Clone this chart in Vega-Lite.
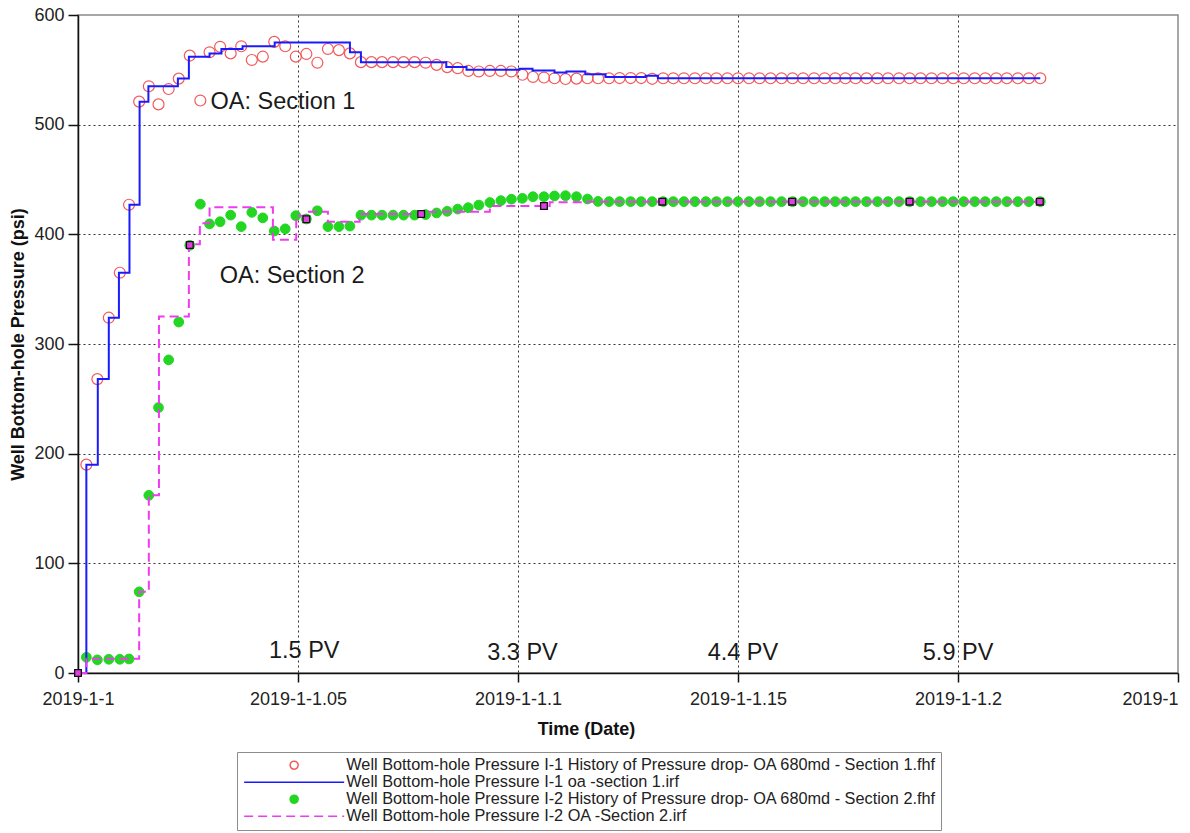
{
  "$schema": "https://vega.github.io/schema/vega-lite/v6.json",
  "width": 1100,
  "height": 658,
  "autosize": {"type": "none"},
  "padding": {"left": 78, "top": 15, "right": 12, "bottom": 160},
  "background": "white",
  "config": {
    "font": "Liberation Sans",
    "view": {"stroke": "#8a8a8a", "strokeWidth": 1.5},
    "legend": {
      "orient": "none",
      "legendX": 159,
      "legendY": 737,
      "direction": "vertical",
      "padding": 5,
      "strokeColor": "#8c8c8c",
      "fillColor": "white",
      "labelFont": "Liberation Sans",
      "labelFontSize": 16.3,
      "labelColor": "#222222",
      "labelLimit": 900,
      "symbolSize": 64,
      "symbolOffset": 44,
      "labelOffset": 44,
      "rowPadding": -3.3,
      "symbolStrokeWidth": 1.5
    }
  },
  "datasets": {
    "hist1": [
      {"t":0.0019,"p":190},{"t":0.0044,"p":268},{"t":0.0070,"p":324},{"t":0.0095,"p":365},{"t":0.0116,"p":427},
      {"t":0.0139,"p":521},{"t":0.0161,"p":535},{"t":0.0183,"p":518.5},{"t":0.0206,"p":532.5},{"t":0.0229,"p":542},
      {"t":0.0254,"p":563},{"t":0.0278,"p":522},{"t":0.0299,"p":566},{"t":0.0323,"p":571},{"t":0.0347,"p":565},
      {"t":0.0371,"p":571.5},{"t":0.0395,"p":559},{"t":0.0420,"p":562},{"t":0.0446,"p":575.5},{"t":0.0471,"p":571.5},
      {"t":0.0495,"p":562},{"t":0.0519,"p":564.5},{"t":0.0544,"p":556.5},{"t":0.0568,"p":569},{"t":0.0593,"p":568},
      {"t":0.0618,"p":565},{"t":0.0643,"p":557},{"t":0.0667,"p":557},{"t":0.0691,"p":557},{"t":0.0716,"p":557},
      {"t":0.0740,"p":557},{"t":0.0765,"p":557},{"t":0.0790,"p":556.5},{"t":0.0815,"p":554.5},{"t":0.0839,"p":552.5},
      {"t":0.0863,"p":551.5},{"t":0.0887,"p":549},{"t":0.0911,"p":548.5},{"t":0.0936,"p":549},{"t":0.0961,"p":549},
      {"t":0.0985,"p":548.5},{"t":0.1010,"p":545.5},{"t":0.1034,"p":543.5},{"t":0.1059,"p":543},{"t":0.1083,"p":542.3},
      {"t":0.1108,"p":541.6},{"t":0.1133,"p":542},{"t":0.1158,"p":542.3},{"t":0.1182,"p":542.3},{"t":0.1207,"p":542.3},
      {"t":0.1231,"p":542.5},{"t":0.1256,"p":542.5},{"t":0.1280,"p":542.5},{"t":0.1305,"p":541.8},{"t":0.1330,"p":542.3},
      {"t":0.1353,"p":542.3},{"t":0.1377,"p":542.3},{"t":0.1402,"p":542.3},{"t":0.1427,"p":542.3},{"t":0.1451,"p":542.3},
      {"t":0.1476,"p":542.3},{"t":0.1500,"p":542.3},{"t":0.1525,"p":542.3},{"t":0.1549,"p":542.3},{"t":0.1574,"p":542.3},
      {"t":0.1599,"p":542.3},{"t":0.1624,"p":542.3},{"t":0.1648,"p":542.3},{"t":0.1673,"p":542.3},{"t":0.1697,"p":542.3},
      {"t":0.1721,"p":542.3},{"t":0.1744,"p":542.3},{"t":0.1767,"p":542.3},{"t":0.1792,"p":542.3},{"t":0.1817,"p":542.3},
      {"t":0.1841,"p":542.3},{"t":0.1866,"p":542.3},{"t":0.1890,"p":542.3},{"t":0.1915,"p":542.3},{"t":0.1940,"p":542.3},
      {"t":0.1965,"p":542.3},{"t":0.1989,"p":542.3},{"t":0.2013,"p":542.3},{"t":0.2038,"p":542.3},{"t":0.2062,"p":542.3},
      {"t":0.2087,"p":542.3},{"t":0.2111,"p":542.3},{"t":0.2136,"p":542.3},{"t":0.2161,"p":542.3},{"t":0.2187,"p":542.3}
    ],
    "hist2": [
      {"t":0.0019,"p":14.3},{"t":0.0044,"p":12},{"t":0.0070,"p":12.5},{"t":0.0095,"p":12.5},{"t":0.0116,"p":12.8},
      {"t":0.0139,"p":74},{"t":0.0161,"p":162},{"t":0.0183,"p":242},{"t":0.0206,"p":285.5},{"t":0.0229,"p":320},
      {"t":0.0254,"p":390},{"t":0.0278,"p":427.5},{"t":0.0299,"p":409.5},{"t":0.0323,"p":411.5},{"t":0.0347,"p":417.5},
      {"t":0.0371,"p":407},{"t":0.0395,"p":420},{"t":0.0420,"p":415},{"t":0.0446,"p":403},{"t":0.0471,"p":405},
      {"t":0.0495,"p":417},{"t":0.0519,"p":414},{"t":0.0544,"p":421.5},{"t":0.0568,"p":407},{"t":0.0593,"p":407},
      {"t":0.0618,"p":407.5},{"t":0.0643,"p":417.5},{"t":0.0667,"p":417.5},{"t":0.0691,"p":417.5},{"t":0.0716,"p":417.5},
      {"t":0.0740,"p":417.5},{"t":0.0765,"p":417.5},{"t":0.0790,"p":418},{"t":0.0815,"p":419.5},{"t":0.0839,"p":421},
      {"t":0.0863,"p":423},{"t":0.0887,"p":424.3},{"t":0.0911,"p":426.7},{"t":0.0936,"p":429},{"t":0.0961,"p":430.7},
      {"t":0.0985,"p":432},{"t":0.1010,"p":432.8},{"t":0.1034,"p":434.3},{"t":0.1059,"p":434.3},{"t":0.1083,"p":435},
      {"t":0.1108,"p":435.2},{"t":0.1133,"p":434.3},{"t":0.1158,"p":432.2},{"t":0.1182,"p":430},{"t":0.1207,"p":429.8},
      {"t":0.1231,"p":429.8},{"t":0.1256,"p":429.8},{"t":0.1280,"p":429.8},{"t":0.1305,"p":429.8},{"t":0.1330,"p":429.8},
      {"t":0.1353,"p":429.8},{"t":0.1377,"p":429.8},{"t":0.1402,"p":429.8},{"t":0.1427,"p":429.8},{"t":0.1451,"p":429.8},
      {"t":0.1476,"p":429.8},{"t":0.1500,"p":429.8},{"t":0.1525,"p":429.8},{"t":0.1549,"p":429.8},{"t":0.1574,"p":429.8},
      {"t":0.1599,"p":429.8},{"t":0.1624,"p":429.8},{"t":0.1648,"p":429.8},{"t":0.1673,"p":429.8},{"t":0.1697,"p":429.8},
      {"t":0.1721,"p":429.8},{"t":0.1744,"p":429.8},{"t":0.1767,"p":429.8},{"t":0.1792,"p":429.8},{"t":0.1817,"p":429.8},
      {"t":0.1841,"p":429.8},{"t":0.1866,"p":429.8},{"t":0.1890,"p":429.8},{"t":0.1915,"p":429.8},{"t":0.1940,"p":429.8},
      {"t":0.1965,"p":429.8},{"t":0.1989,"p":429.8},{"t":0.2013,"p":429.8},{"t":0.2038,"p":429.8},{"t":0.2062,"p":429.8},
      {"t":0.2087,"p":429.8},{"t":0.2111,"p":429.8},{"t":0.2136,"p":429.8},{"t":0.2161,"p":429.8},{"t":0.2187,"p":429.8}
    ],
    "sim1": [
      {"t":0,"p":0},{"t":0.0019,"p":190},{"t":0.0045,"p":268},{"t":0.0070,"p":324},{"t":0.0093,"p":365},
      {"t":0.0117,"p":427},{"t":0.0140,"p":521},{"t":0.0160,"p":535},{"t":0.0227,"p":542},{"t":0.0252,"p":562},
      {"t":0.0299,"p":565},{"t":0.0326,"p":569},{"t":0.0374,"p":571.5},{"t":0.0447,"p":575},{"t":0.0618,"p":566},
      {"t":0.0643,"p":557},{"t":0.0837,"p":552.5},{"t":0.0883,"p":550},{"t":0.1003,"p":551},{"t":0.1033,"p":549.5},
      {"t":0.1083,"p":547.5},{"t":0.1110,"p":548.5},{"t":0.1153,"p":546},{"t":0.1199,"p":543.5},{"t":0.1290,"p":544.5},
      {"t":0.1318,"p":542.3},{"t":0.2187,"p":542.3}
    ],
    "sim2": [
      {"t":0,"p":0},{"t":0.0019,"p":13},{"t":0.0139,"p":74},{"t":0.0161,"p":162},{"t":0.0184,"p":325},
      {"t":0.0252,"p":391},{"t":0.0277,"p":410},{"t":0.0299,"p":424.6},{"t":0.0443,"p":395},{"t":0.0496,"p":417},
      {"t":0.0519,"p":420.5},{"t":0.0568,"p":411.5},{"t":0.0640,"p":418.5},{"t":0.0792,"p":420.6},{"t":0.0936,"p":425.8},
      {"t":0.1072,"p":429.2},{"t":0.1147,"p":429.8},{"t":0.2187,"p":429.8}
    ],
    "events": [
      {"t":0,"p":0},{"t":0.0254,"p":390.3},{"t":0.0519,"p":413.7},{"t":0.0780,"p":418.5},{"t":0.1059,"p":425.8},
      {"t":0.1328,"p":429.8},{"t":0.1623,"p":429.8},{"t":0.1890,"p":429.8},{"t":0.2186,"p":429.8}
    ],
    "notes": [
      {"t":0.0301,"p":514,"label":"OA: Section 1"},
      {"t":0.0322,"p":356,"label":"OA: Section 2"},
      {"t":0.0434,"p":13.4,"label":"1.5 PV"},
      {"t":0.0930,"p":12,"label":"3.3 PV"},
      {"t":0.1431,"p":12,"label":"4.4 PV"},
      {"t":0.1920,"p":12,"label":"5.9 PV"}
    ]
  },
  "encoding": {
    "x": {
      "field": "t",
      "type": "quantitative",
      "scale": {"domain": [0, 0.25], "nice": false, "zero": false},
      "axis": {
        "title": "Time (Date)",
        "values": [0, 0.05, 0.1, 0.15, 0.2, 0.25],
        "labelExpr": "datum.value >= 0.25 ? '2019-1' : '2019-1-' + format(1 + datum.value, '.2~f')",
        "labelAlign": {"condition": {"test": "datum.value >= 0.25", "value": "right"}, "value": "center"},
        "labelFlush": false,
        "labelOverlap": false,
        "labelFontSize": 18,
        "labelColor": "#222222",
        "labelPadding": 8,
        "tickSize": 9,
        "tickColor": "#111111",
        "tickWidth": 1.5,
        "domainColor": "#111111",
        "domainWidth": 1.5,
        "grid": true,
        "gridColor": "#333333",
        "gridDash": [2, 3],
        "gridWidth": 1,
        "gridOpacity": {"condition": {"test": "datum.value <= 0 || datum.value >= 0.25", "value": 0}, "value": 1},
        "titleFontSize": 18,
        "titleFontWeight": "bold",
        "titleColor": "#111111",
        "titleX": 508,
        "titleY": 61,
        "titleBaseline": "alphabetic",
        "titleAlign": "center"
      }
    },
    "y": {
      "field": "p",
      "type": "quantitative",
      "scale": {"domain": [0, 600], "nice": false},
      "axis": {
        "title": "Well Bottom-hole Pressure (psi)",
        "values": [0, 100, 200, 300, 400, 500, 600],
        "labelFontSize": 18,
        "labelColor": "#222222",
        "labelPadding": 4,
        "tickSize": 10,
        "tickColor": "#111111",
        "tickWidth": 1.5,
        "domainColor": "#111111",
        "domainWidth": 1.5,
        "grid": true,
        "gridColor": "#333333",
        "gridDash": [2, 3],
        "gridWidth": 1,
        "gridOpacity": {"condition": {"test": "datum.value <= 0 || datum.value >= 600", "value": 0}, "value": 1},
        "titleFontSize": 18,
        "titleFontWeight": "bold",
        "titleColor": "#111111",
        "titleAngle": 270,
        "titleX": -55,
        "titleY": 329,
        "titleBaseline": "alphabetic",
        "titleAlign": "center"
      }
    }
  },
  "layer": [
    {
      "data": {"name": "hist1"},
      "mark": {"type": "point", "filled": true, "size": 120, "strokeWidth": 1.2, "opacity": 1},
      "encoding": {
        "stroke": {
          "datum": "Well Bottom-hole Pressure I-1 History of Pressure drop- OA 680md - Section 1.fhf",
          "type": "nominal",
          "scale": {
            "domain": [
              "Well Bottom-hole Pressure I-1 History of Pressure drop- OA 680md - Section 1.fhf",
              "Well Bottom-hole Pressure I-1 oa -section 1.irf",
              "Well Bottom-hole Pressure I-2 History of Pressure drop- OA 680md - Section 2.fhf",
              "Well Bottom-hole Pressure I-2 OA -Section 2.irf"
            ],
            "range": ["#f25a5a", "#1a1aff", "#22d622", "#f03cf0"]
          },
          "legend": {"title": null}
        },
        "fill": {
          "datum": "Well Bottom-hole Pressure I-1 History of Pressure drop- OA 680md - Section 1.fhf",
          "type": "nominal",
          "scale": {
            "domain": [
              "Well Bottom-hole Pressure I-1 History of Pressure drop- OA 680md - Section 1.fhf",
              "Well Bottom-hole Pressure I-1 oa -section 1.irf",
              "Well Bottom-hole Pressure I-2 History of Pressure drop- OA 680md - Section 2.fhf",
              "Well Bottom-hole Pressure I-2 OA -Section 2.irf"
            ],
            "range": ["transparent", "transparent", "#22d622", "transparent"]
          },
          "legend": {"title": null}
        },
        "shape": {
          "datum": "Well Bottom-hole Pressure I-1 History of Pressure drop- OA 680md - Section 1.fhf",
          "type": "nominal",
          "scale": {
            "domain": [
              "Well Bottom-hole Pressure I-1 History of Pressure drop- OA 680md - Section 1.fhf",
              "Well Bottom-hole Pressure I-1 oa -section 1.irf",
              "Well Bottom-hole Pressure I-2 History of Pressure drop- OA 680md - Section 2.fhf",
              "Well Bottom-hole Pressure I-2 OA -Section 2.irf"
            ],
            "range": ["circle", "M-12.5,0H12.5", "circle", "M-12.5,0H12.5"]
          },
          "legend": {"title": null}
        }
      }
    },
    {
      "data": {"name": "hist2"},
      "mark": {"type": "point", "filled": true, "size": 95, "strokeWidth": 1, "opacity": 1},
      "encoding": {
        "stroke": {
          "datum": "Well Bottom-hole Pressure I-2 History of Pressure drop- OA 680md - Section 2.fhf",
          "type": "nominal",
          "legend": {"title": null}
        },
        "fill": {
          "datum": "Well Bottom-hole Pressure I-2 History of Pressure drop- OA 680md - Section 2.fhf",
          "type": "nominal",
          "legend": {"title": null}
        },
        "shape": {
          "datum": "Well Bottom-hole Pressure I-2 History of Pressure drop- OA 680md - Section 2.fhf",
          "type": "nominal",
          "legend": {"title": null}
        }
      }
    },
    {
      "data": {"name": "sim1"},
      "mark": {"type": "line", "interpolate": "step-after", "strokeWidth": 2},
      "encoding": {
        "stroke": {
          "datum": "Well Bottom-hole Pressure I-1 oa -section 1.irf",
          "type": "nominal",
          "legend": {"title": null}
        },
        "strokeDash": {
          "datum": "Well Bottom-hole Pressure I-1 oa -section 1.irf",
          "type": "nominal",
          "scale": {
            "domain": [
              "Well Bottom-hole Pressure I-1 History of Pressure drop- OA 680md - Section 1.fhf",
              "Well Bottom-hole Pressure I-1 oa -section 1.irf",
              "Well Bottom-hole Pressure I-2 History of Pressure drop- OA 680md - Section 2.fhf",
              "Well Bottom-hole Pressure I-2 OA -Section 2.irf"
            ],
            "range": [[1, 0], [1, 0], [1, 0], [9, 5]]
          },
          "legend": {"title": null}
        }
      }
    },
    {
      "data": {"name": "sim2"},
      "mark": {"type": "line", "interpolate": "step-after", "strokeWidth": 2},
      "encoding": {
        "stroke": {
          "datum": "Well Bottom-hole Pressure I-2 OA -Section 2.irf",
          "type": "nominal",
          "legend": {"title": null}
        },
        "strokeDash": {
          "datum": "Well Bottom-hole Pressure I-2 OA -Section 2.irf",
          "type": "nominal",
          "legend": {"title": null}
        }
      }
    },
    {
      "data": {"name": "events"},
      "mark": {"type": "point", "shape": "square", "filled": true, "fill": "#e040e0", "stroke": "#111111", "strokeWidth": 1.3, "size": 45, "opacity": 1},
      "encoding": {}
    },
    {
      "data": {"name": "notes"},
      "mark": {"type": "text", "align": "left", "baseline": "alphabetic", "fontSize": 23.5, "font": "Liberation Sans", "color": "#1a1a1a"},
      "encoding": {"text": {"field": "label"}}
    }
  ]
}
